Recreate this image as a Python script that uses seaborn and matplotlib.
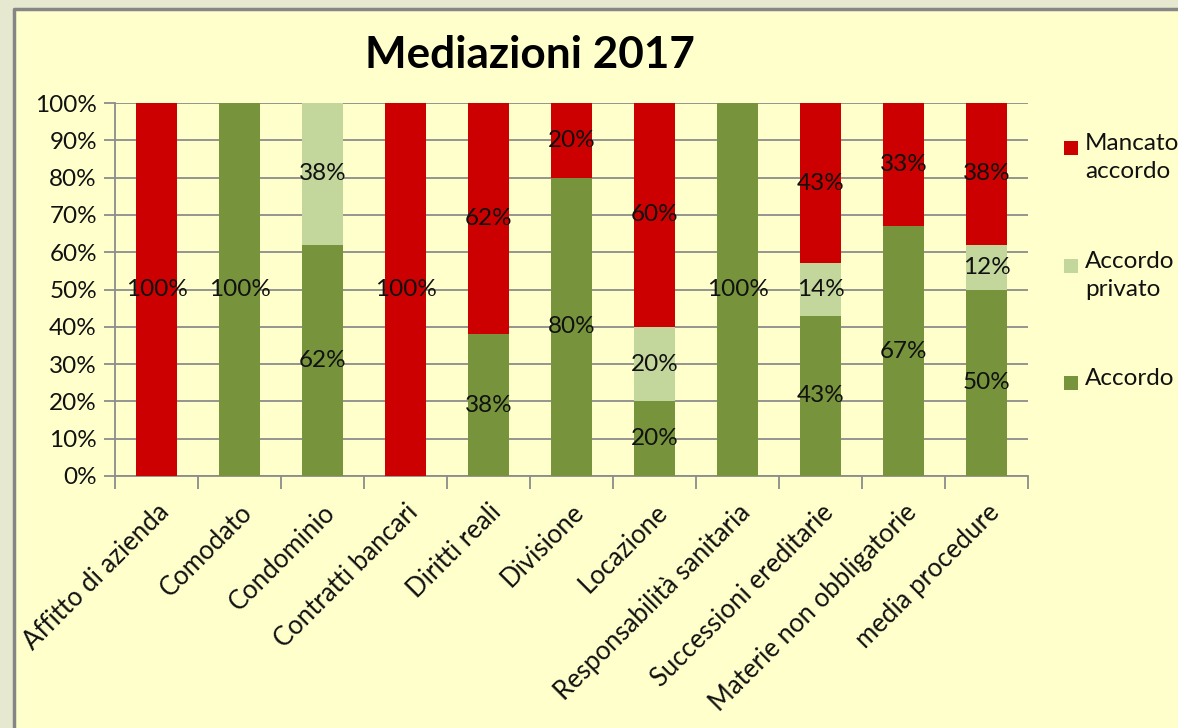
import numpy as np
import pandas as pd
import matplotlib
matplotlib.use('Agg')
import matplotlib.pyplot as plt
from matplotlib.patches import Rectangle
from matplotlib.lines import Line2D
from matplotlib.ticker import MultipleLocator, FuncFormatter
import seaborn as sns

# dati (percentuali per tipologia di mediazione)
categorie = ['Affitto di azienda', 'Comodato', 'Condominio', 'Contratti bancari',
             'Diritti reali', 'Divisione', 'Locazione', 'Responsabilità sanitaria',
             'Successioni ereditarie', 'Materie non obbligatorie', 'media procedure']
accordo = [0, 100, 62, 0, 38, 80, 20, 100, 43, 67, 50]
accordo_privato = [0, 0, 38, 0, 0, 0, 20, 0, 14, 0, 12]
mancato_accordo = [100, 0, 0, 100, 62, 20, 60, 0, 43, 33, 38]

serie = ['Mancato\naccordo', 'Accordo\nprivato', 'Accordo']
colori = {'Accordo': '#77933C', 'Accordo\nprivato': '#C3D69B', 'Mancato\naccordo': '#CC0000'}

sns.set_style('white')
plt.rcParams['font.family'] = ['Lato', 'DejaVu Sans']

df = pd.DataFrame({'categoria': categorie, 'Accordo': accordo,
                   'Privato': accordo_privato, 'Mancato': mancato_accordo})
df['cum1'] = df['Accordo']
df['cum2'] = df['cum1'] + df['Privato']
df['cum3'] = df['cum2'] + df['Mancato']

fig = plt.figure(figsize=(11.78, 7.28), dpi=100)
fig.patch.set_facecolor('#E6E8D0')

# area del grafico (cornice solo a sinistra e in alto, il resto e' tagliato)
x0, y0 = 14 / 1178, 1 - 9 / 728
fig.add_artist(Rectangle((x0, 0), 1 - x0, y0, transform=fig.transFigure,
                         facecolor='#FFFFCC', edgecolor='none', zorder=0))
fig.add_artist(Line2D([x0, x0, 1], [0, y0, y0], transform=fig.transFigure,
                      color='#868686', linewidth=2.5, zorder=0.5))

ax = fig.add_axes([115 / 1178, 1 - 476 / 728, (1028 - 115) / 1178, (476 - 103) / 728])
ax.set_facecolor('#FFFFCC')

# barre impilate: si disegnano i cumulati dal piu' alto al piu' basso
for col, nome in [('cum3', 'Mancato\naccordo'), ('cum2', 'Accordo\nprivato'), ('cum1', 'Accordo')]:
    sns.barplot(data=df, x='categoria', y=col, color=colori[nome], saturation=1,
                width=0.505, ax=ax, zorder=3, edgecolor='none')

# etichette dati al centro di ogni segmento
for i, row in df.iterrows():
    base = 0
    for col in ['Accordo', 'Privato', 'Mancato']:
        v = row[col]
        if v > 0:
            ax.text(i, base + v / 2, f'{v:.0f}%', ha='center', va='center',
                    fontsize=17.5, color='#111111', zorder=5)
        base += v

ax.set_ylim(0, 100)
ax.set_xlim(-0.5, len(categorie) - 0.5)
ax.yaxis.set_major_locator(MultipleLocator(10))
ax.yaxis.set_major_formatter(FuncFormatter(lambda v, p: f'{v:.0f}%'))
ax.grid(axis='y', color='#8C8C8C', linewidth=1.3, zorder=1)
ax.set_axisbelow(True)
ax.set_xlabel('')
ax.set_ylabel('')

for s in ['top', 'right']:
    ax.spines[s].set_visible(False)
for s in ['left', 'bottom']:
    ax.spines[s].set_color('#8C8C8C')
    ax.spines[s].set_linewidth(1.3)

ax.set_xticks(range(len(categorie)))
ax.set_xticklabels(categorie, rotation=45, ha='right', rotation_mode='anchor')
ax.set_xticks(np.arange(-0.5, len(categorie)), minor=True)
ax.tick_params(axis='x', which='major', length=0, pad=17, labelsize=18.5, labelcolor='#111111')
ax.tick_params(axis='x', which='minor', length=9, width=1.3, color='#8C8C8C', direction='out')
ax.tick_params(axis='y', length=8, width=1.3, color='#8C8C8C', direction='out',
               labelsize=17.5, labelcolor='#111111', pad=5)
ax.tick_params(bottom=True, left=True, which='both')

fig.text(530 / 1178, 1 - 55 / 728, 'Mediazioni 2017', ha='center', va='center',
         fontsize=31.8, fontweight='bold', color='#000000')

# legenda manuale (quadrati allineati alla prima riga)
leg_y = [148, 266, 383]
for nome, y in zip(serie, leg_y):
    fig.add_artist(Rectangle((1064 / 1178, 1 - (y + 7) / 728), 14 / 1178, 14 / 728,
                             transform=fig.transFigure, facecolor=colori[nome],
                             edgecolor='none', zorder=3))
    fig.text(1085 / 1178, 1 - (y - 15) / 728, nome, ha='left', va='top',
             fontsize=17.5, color='#111111', linespacing=1.4)

plt.savefig('out.png', dpi=100, facecolor=fig.get_facecolor())
plt.close()
